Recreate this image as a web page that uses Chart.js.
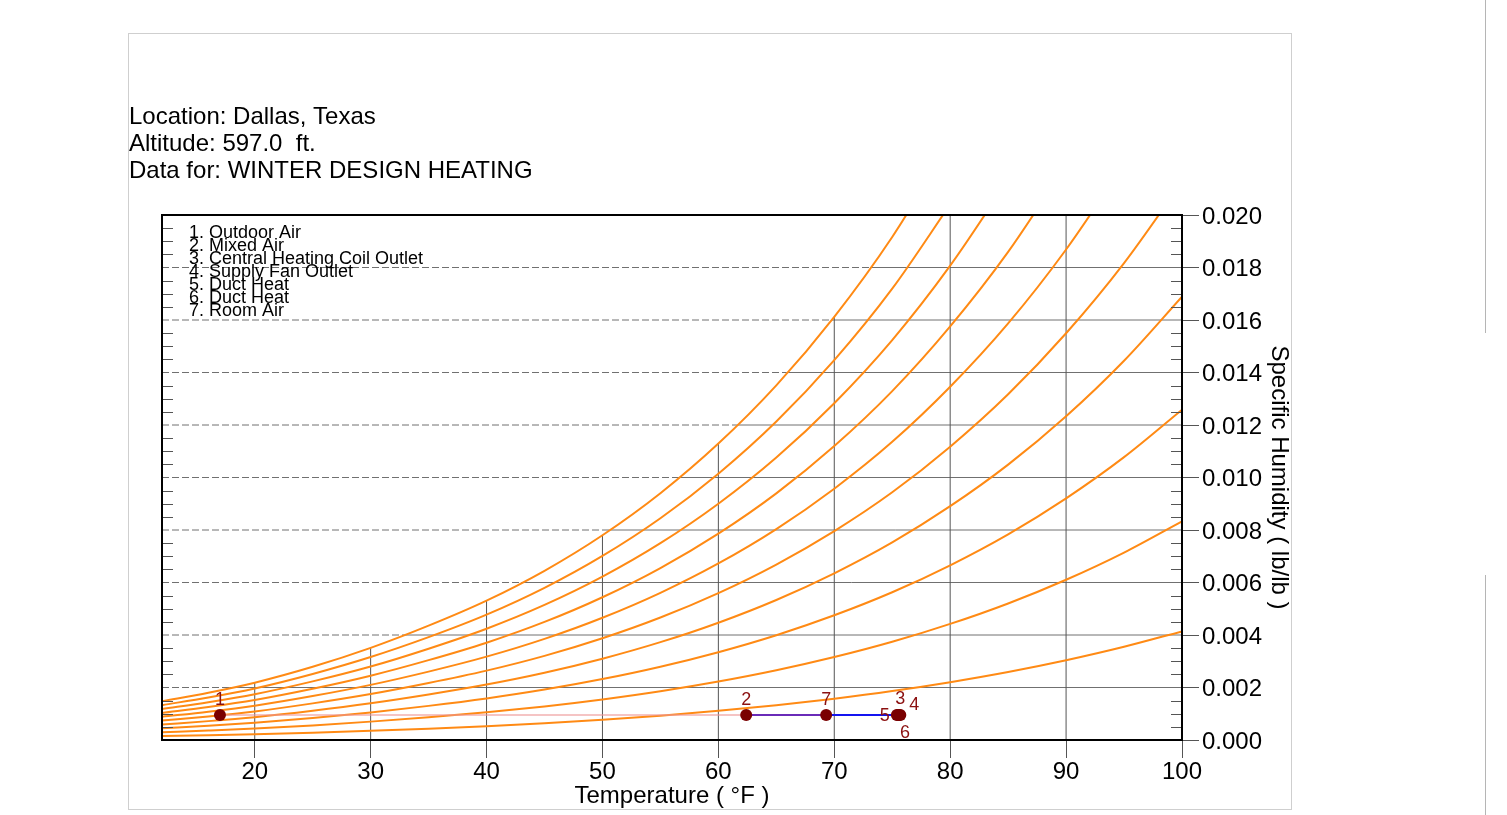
<!DOCTYPE html>
<html>
<head>
<meta charset="utf-8">
<title>Psychrometric chart - Dallas, Texas</title>
<script src="https://cdn.jsdelivr.net/npm/chart.js@4.4.1/dist/chart.umd.min.js"></script>
<style>
  html, body { margin: 0; padding: 0; background: #fff; }
  #frame { position: absolute; left: 128px; top: 33px; width: 1162px; height: 775px; border: 1px solid #cfcfcf; }
  .edge { position: absolute; left: 1485px; width: 1px; background: #b5b5b5; }
  canvas { position: absolute; left: 0; top: 0; }
</style>
</head>
<body>
<div id="frame"></div>
<div class="edge" style="top:0;height:333px"></div>
<div class="edge" style="top:575px;height:240px"></div>
<canvas id="psychroChart" width="1507" height="815"></canvas>
<script>
// dry bulb temperatures (F) where the RH lines were read
const temps = [12, 16, 20, 25, 30, 35, 40, 45, 50, 55, 60, 65, 70, 75, 80, 85, 90, 95, 100];

// specific humidity (lb/lb) along each relative humidity line, 10% .. 100%
const rh10  = [0.000148, 0.00018, 0.000218, 0.000278, 0.00035, 0.000433, 0.000527, 0.000639, 0.000771, 0.000927, 0.001111, 0.001325, 0.001575, 0.001865, 0.002203, 0.00259, 0.003038, 0.003551, 0.004138];
const rh20  = [0.000295, 0.00036, 0.000435, 0.000556, 0.0007, 0.000866, 0.001055, 0.001279, 0.001545, 0.001858, 0.002226, 0.002656, 0.003159, 0.003741, 0.004422, 0.005202, 0.006106, 0.007142, 0.008332];
const rh30  = [0.000443, 0.000539, 0.000653, 0.000835, 0.00105, 0.0013, 0.001583, 0.00192, 0.00232, 0.002791, 0.003345, 0.003992, 0.004751, 0.005628, 0.006656, 0.007835, 0.009205, 0.010775, 0.012582];
const rh40  = [0.00059, 0.000719, 0.000871, 0.001115, 0.0014, 0.001735, 0.002113, 0.002562, 0.003097, 0.003727, 0.004468, 0.005335, 0.00635, 0.007526, 0.008907, 0.010491, 0.012334, 0.01445, 0.01689];
const rh50  = [0.000738, 0.000899, 0.001089, 0.001395, 0.00175, 0.00217, 0.002643, 0.003206, 0.003876, 0.004665, 0.005595, 0.006683, 0.007958, 0.009437, 0.011173, 0.01317, 0.015494, 0.018168, 0.021258];
const rh60  = [0.000885, 0.001079, 0.001307, 0.001674, 0.0021, 0.002605, 0.003175, 0.003852, 0.004657, 0.005607, 0.006726, 0.008036, 0.009574, 0.011358, 0.013456, 0.01587, 0.018686, 0.02193];
const rh70  = [0.001033, 0.00126, 0.001526, 0.001953, 0.00245, 0.003042, 0.003707, 0.004498, 0.005439, 0.006551, 0.007862, 0.009396, 0.011199, 0.013292, 0.015755, 0.018594, 0.02191];
const rh80  = [0.00118, 0.00144, 0.001745, 0.002234, 0.0028, 0.003479, 0.00424, 0.005146, 0.006224, 0.007498, 0.009001, 0.010761, 0.012831, 0.015237, 0.018071, 0.021342];
const rh90  = [0.001328, 0.00162, 0.001963, 0.002515, 0.00316, 0.003917, 0.004774, 0.005795, 0.007011, 0.008447, 0.010145, 0.012133, 0.014472, 0.017195, 0.020404];
const rh100 = [0.001478, 0.0018, 0.002183, 0.002789, 0.00351, 0.004356, 0.005309, 0.006446, 0.0078, 0.009401, 0.011292, 0.01351, 0.016122, 0.019164, 0.022755];
const rhLines = [rh10, rh20, rh30, rh40, rh50, rh60, rh70, rh80, rh90, rh100];

// axes
const xMin = 12, xMax = 100;
const yMin = 0, yMax = 0.02;
const xTicks = [20, 30, 40, 50, 60, 70, 80, 90, 100];
const yTicks = [0, 0.002, 0.004, 0.006, 0.008, 0.010, 0.012, 0.014, 0.016, 0.018, 0.020];
const minorStep = 0.0005;

// vertical grid lines stop at the saturation curve
const gridTemps = [20, 30, 40, 50, 60, 70, 80, 90];
const gridTop = [0.002183, 0.00351, 0.005309, 0.0078, 0.011292, 0.016122, 0.02, 0.02];
// horizontal grid lines: dashed left of the dew point, solid right of it
const levelHumidity = [0.002, 0.004, 0.006, 0.008, 0.010, 0.012, 0.014, 0.016, 0.018];
const levelDewPoints = [17.8, 32.9, 43.0, 50.6, 56.6, 61.6, 65.9, 69.8, 73.1];

// air states
const stateLabels = ['1', '2', '3', '4', '5', '6', '7'];
const stateNames = ['Outdoor Air', 'Mixed Air', 'Central Heating Coil Outlet', 'Supply Fan Outlet', 'Duct Heat', 'Duct Heat', 'Room Air'];
const stateTemps = [17.0, 62.4, 75.6, 75.7, 75.4, 75.5, 69.3];
const stateHumidity = [0.00095, 0.00095, 0.00095, 0.00095, 0.00095, 0.00095, 0.00095];
const processPath = [[0, 1], [1, 6], [6, 4]];

const pathColors = ['rgba(238,150,150,0.75)', '#6a2bb8', '#1414f0'];
// label offsets (px) from each state point
const labelOffsets = [[0, -15], [0, -15], [1, -16], [14, -10], [-12, 1], [7, 18], [0, -15]];

Chart.defaults.font.family = "'Liberation Sans', Arial, sans-serif";

const datasets = [];
datasets.push({
  data: stateTemps.map((t, i) => ({ x: t, y: stateHumidity[i] })),
  showLine: false,
  pointRadius: 6,
  pointBackgroundColor: '#7a0000',
  pointBorderColor: '#7a0000',
  pointBorderWidth: 0,
  order: 0
});
processPath.forEach(([a, b], i) => {
  datasets.push({
    data: [{ x: stateTemps[a], y: stateHumidity[a] }, { x: stateTemps[b], y: stateHumidity[b] }],
    showLine: true,
    borderColor: pathColors[i],
    borderWidth: i === 0 ? 1.5 : 2,
    pointRadius: 0,
    order: 1
  });
});
rhLines.forEach(vals => {
  datasets.push({
    data: vals.map((w, i) => ({ x: temps[i], y: w })),
    showLine: true,
    borderColor: '#ff8a14',
    borderWidth: 2,
    pointRadius: 0,
    cubicInterpolationMode: 'monotone',
    clip: 0,
    order: 2
  });
});
gridTemps.forEach((t, i) => {
  datasets.push({
    data: [{ x: t, y: 0 }, { x: t, y: gridTop[i] }],
    showLine: true,
    borderColor: '#555',
    borderWidth: 1,
    pointRadius: 0,
    order: 3
  });
});
levelHumidity.forEach((w, i) => {
  datasets.push({
    data: [{ x: xMin, y: w }, { x: levelDewPoints[i], y: w }, { x: xMax, y: w }],
    showLine: true,
    borderColor: '#707070',
    borderWidth: 1,
    pointRadius: 0,
    segment: { borderDash: c => c.p0DataIndex === 0 ? [7, 3] : undefined },
    order: 3
  });
});

const overlay = {
  id: 'overlay',
  afterDatasetsDraw(chart) {
    const { ctx, chartArea: a, scales: { x, y } } = chart;
    ctx.save();

    // minor ticks on both vertical edges
    ctx.strokeStyle = '#555';
    ctx.lineWidth = 1.2;
    const n = Math.round((yMax - yMin) / minorStep);
    for (let k = 1; k < n; k++) {
      if (k % 4 === 0) continue;
      const py = Math.round(y.getPixelForValue(yMin + k * minorStep)) + 0.5;
      ctx.beginPath();
      ctx.moveTo(a.right - 11, py); ctx.lineTo(a.right, py);
      ctx.moveTo(a.left, py); ctx.lineTo(a.left + 11, py);
      ctx.stroke();
    }

    // plot frame
    ctx.strokeStyle = '#000';
    ctx.lineWidth = 2;
    ctx.strokeRect(a.left, a.top, a.right - a.left, a.bottom - a.top);

    // state numbers
    ctx.fillStyle = '#8b1010';
    ctx.font = "18px 'Liberation Sans', Arial, sans-serif";
    ctx.textAlign = 'center';
    ctx.textBaseline = 'middle';
    stateLabels.forEach((lab, i) => {
      const px = x.getPixelForValue(stateTemps[i]) + labelOffsets[i][0];
      const py = y.getPixelForValue(stateHumidity[i]) + labelOffsets[i][1];
      ctx.fillText(lab, px, py);
    });

    // state list
    ctx.fillStyle = '#000';
    ctx.font = "18px 'Liberation Sans', Arial, sans-serif";
    ctx.textAlign = 'left';
    stateNames.forEach((name, i) => {
      ctx.fillText(stateLabels[i] + '. ' + name, a.left + 27, a.top + 18 + i * 13);
    });
    ctx.restore();
  },
  afterDraw(chart) {
    const ctx = chart.ctx;
    ctx.save();
    ctx.fillStyle = '#000';
    ctx.font = "24px 'Liberation Sans', Arial, sans-serif";
    ctx.textAlign = 'left';
    ctx.textBaseline = 'middle';
    ['Location: Dallas, Texas', 'Altitude: 597.0  ft.', 'Data for: WINTER DESIGN HEATING']
      .forEach((s, i) => ctx.fillText(s, 129, 117 + i * 27));
    ctx.restore();
  }
};

new Chart(document.getElementById('psychroChart'), {
  type: 'scatter',
  data: { datasets },
  options: {
    responsive: false,
    animation: false,
    events: [],
    layout: { padding: { left: 162, top: 215, right: 211, bottom: 0 } },
    plugins: { legend: { display: false }, tooltip: { enabled: false } },
    scales: {
      x: {
        type: 'linear',
        min: xMin,
        max: xMax,
        afterBuildTicks: s => { s.ticks = xTicks.map(v => ({ value: v })); },
        afterFit: s => { s.height = 75; },
        grid: { drawOnChartArea: false, drawTicks: true, tickLength: 18, color: '#555' },
        border: { display: false },
        ticks: { color: '#000', font: { size: 24 }, padding: 0, maxRotation: 0, autoSkip: false },
        title: { display: true, text: 'Temperature ( °F )', color: '#000', font: { size: 24 }, padding: { top: 0, bottom: 4 } }
      },
      y: {
        type: 'linear',
        position: 'right',
        min: yMin,
        max: yMax,
        afterBuildTicks: s => { s.ticks = yTicks.map(v => ({ value: v })); },
        afterFit: s => { s.width = 114; },
        grid: { drawOnChartArea: false, drawTicks: true, tickLength: 17, color: '#555' },
        border: { display: false },
        ticks: { color: '#000', font: { size: 24 }, padding: 3, labelOffset: 2, autoSkip: false, callback: v => Number(v).toFixed(3) },
        title: { display: true, text: 'Specific Humidity ( lb/lb )', color: '#000', font: { size: 24 }, padding: { top: 3, bottom: 0 } }
      }
    }
  },
  plugins: [overlay]
});
</script>
</body>
</html>
